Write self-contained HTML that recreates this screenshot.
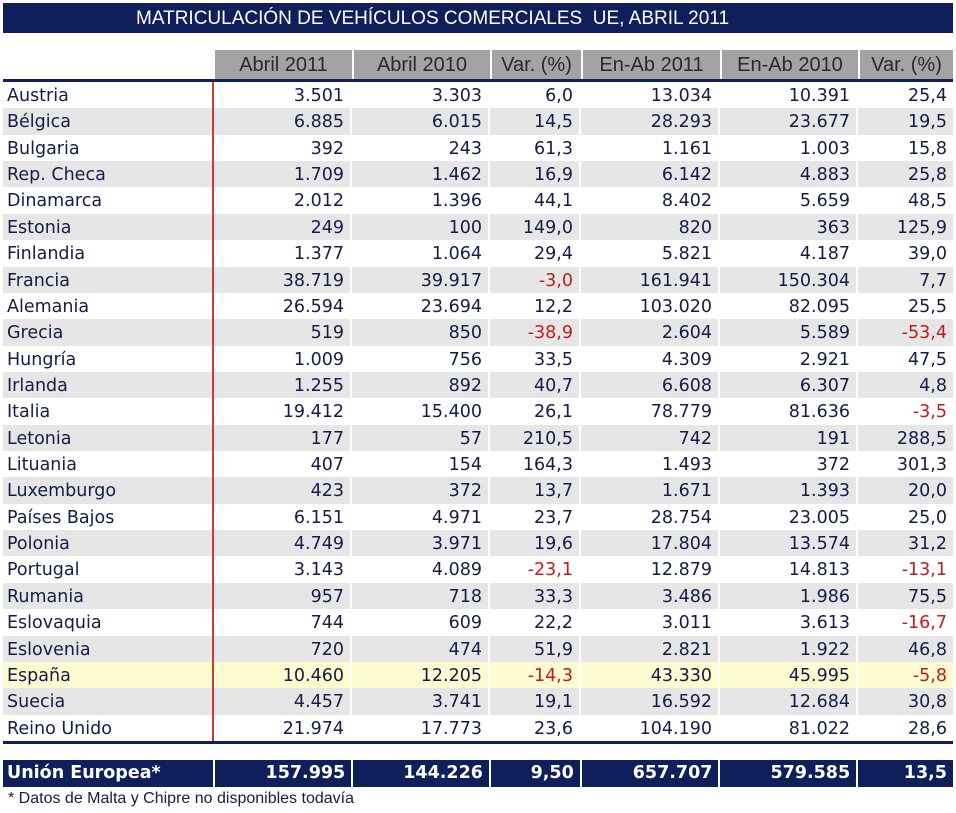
<!DOCTYPE html>
<html><head><meta charset="utf-8"><style>
*{margin:0;padding:0;box-sizing:border-box}
body{width:956px;height:813px;background:#fff;position:relative;overflow:hidden;font-family:"DejaVu Sans",Verdana,sans-serif;color:#141c4a}
.title{position:absolute;left:3px;top:3px;width:950px;height:30px;background:#0f1f5c;color:#fff;font-family:"Liberation Sans",sans-serif;font-size:19px;line-height:31px;padding-left:133px}
.hdr{position:absolute;top:50px;height:29px;background:#a3a3a3;color:#2a2a2a;font-family:"Liberation Sans",sans-serif;font-size:20px;line-height:31px;text-align:center;border-right:2px solid #fff}
.line{position:absolute;left:3px;width:950px;height:3px;background:#0f1f5c}
.rows{position:absolute;left:3px;top:82px;width:950px}
.r{height:26.36px;display:flex;font-size:17.5px;line-height:28px}
.r div{text-align:right;padding-right:6px;border-right:2px solid #fff}
.r div:first-child{text-align:left;padding-left:4px;width:210px;border-right:none}
.g{background:#e6e6e6}
.y{background:#fdfbd0}
.c1{width:139px}.c2{width:138px}.c3{width:91px}.c4{width:139px}.c5{width:138px}.c6{width:95px;border-right:none!important}
.n{color:#c41a1a}
.red{position:absolute;left:212px;top:82px;width:2px;height:660px;background:#d43a2e}
.tot{position:absolute;left:3px;top:760px;width:950px;height:27px;display:flex;color:#fff;font-weight:bold;font-size:17.5px;line-height:27px}
.tot div{background:#0f1f5c;text-align:right;padding-right:6px;border-right:2px solid #fff}
.tot div:first-child{text-align:left;padding-left:4px;width:212px}
.foot{position:absolute;left:8px;top:790px;font-family:"Liberation Sans",sans-serif;font-size:16px;color:#141c4a}
</style></head><body>
<div class="title">MATRICULACIÓN DE VEHÍCULOS COMERCIALES&nbsp; UE, ABRIL 2011</div>
<div class="hdr" style="left:215px;width:139px">Abril 2011</div>
<div class="hdr" style="left:354px;width:138px">Abril 2010</div>
<div class="hdr" style="left:492px;width:91px">Var. (%)</div>
<div class="hdr" style="left:583px;width:139px">En-Ab 2011</div>
<div class="hdr" style="left:722px;width:138px">En-Ab 2010</div>
<div class="hdr" style="left:860px;width:93px;border-right:none">Var. (%)</div>
<div class="line" style="top:79px"></div>
<div class="rows">
<div class="r"><div>Austria</div><div class="c1">3.501</div><div class="c2">3.303</div><div class="c3">6,0</div><div class="c4">13.034</div><div class="c5">10.391</div><div class="c6">25,4</div></div>
<div class="r g"><div>Bélgica</div><div class="c1">6.885</div><div class="c2">6.015</div><div class="c3">14,5</div><div class="c4">28.293</div><div class="c5">23.677</div><div class="c6">19,5</div></div>
<div class="r"><div>Bulgaria</div><div class="c1">392</div><div class="c2">243</div><div class="c3">61,3</div><div class="c4">1.161</div><div class="c5">1.003</div><div class="c6">15,8</div></div>
<div class="r g"><div>Rep. Checa</div><div class="c1">1.709</div><div class="c2">1.462</div><div class="c3">16,9</div><div class="c4">6.142</div><div class="c5">4.883</div><div class="c6">25,8</div></div>
<div class="r"><div>Dinamarca</div><div class="c1">2.012</div><div class="c2">1.396</div><div class="c3">44,1</div><div class="c4">8.402</div><div class="c5">5.659</div><div class="c6">48,5</div></div>
<div class="r g"><div>Estonia</div><div class="c1">249</div><div class="c2">100</div><div class="c3">149,0</div><div class="c4">820</div><div class="c5">363</div><div class="c6">125,9</div></div>
<div class="r"><div>Finlandia</div><div class="c1">1.377</div><div class="c2">1.064</div><div class="c3">29,4</div><div class="c4">5.821</div><div class="c5">4.187</div><div class="c6">39,0</div></div>
<div class="r g"><div>Francia</div><div class="c1">38.719</div><div class="c2">39.917</div><div class="c3 n">-3,0</div><div class="c4">161.941</div><div class="c5">150.304</div><div class="c6">7,7</div></div>
<div class="r"><div>Alemania</div><div class="c1">26.594</div><div class="c2">23.694</div><div class="c3">12,2</div><div class="c4">103.020</div><div class="c5">82.095</div><div class="c6">25,5</div></div>
<div class="r g"><div>Grecia</div><div class="c1">519</div><div class="c2">850</div><div class="c3 n">-38,9</div><div class="c4">2.604</div><div class="c5">5.589</div><div class="c6 n">-53,4</div></div>
<div class="r"><div>Hungría</div><div class="c1">1.009</div><div class="c2">756</div><div class="c3">33,5</div><div class="c4">4.309</div><div class="c5">2.921</div><div class="c6">47,5</div></div>
<div class="r g"><div>Irlanda</div><div class="c1">1.255</div><div class="c2">892</div><div class="c3">40,7</div><div class="c4">6.608</div><div class="c5">6.307</div><div class="c6">4,8</div></div>
<div class="r"><div>Italia</div><div class="c1">19.412</div><div class="c2">15.400</div><div class="c3">26,1</div><div class="c4">78.779</div><div class="c5">81.636</div><div class="c6 n">-3,5</div></div>
<div class="r g"><div>Letonia</div><div class="c1">177</div><div class="c2">57</div><div class="c3">210,5</div><div class="c4">742</div><div class="c5">191</div><div class="c6">288,5</div></div>
<div class="r"><div>Lituania</div><div class="c1">407</div><div class="c2">154</div><div class="c3">164,3</div><div class="c4">1.493</div><div class="c5">372</div><div class="c6">301,3</div></div>
<div class="r g"><div>Luxemburgo</div><div class="c1">423</div><div class="c2">372</div><div class="c3">13,7</div><div class="c4">1.671</div><div class="c5">1.393</div><div class="c6">20,0</div></div>
<div class="r"><div>Países Bajos</div><div class="c1">6.151</div><div class="c2">4.971</div><div class="c3">23,7</div><div class="c4">28.754</div><div class="c5">23.005</div><div class="c6">25,0</div></div>
<div class="r g"><div>Polonia</div><div class="c1">4.749</div><div class="c2">3.971</div><div class="c3">19,6</div><div class="c4">17.804</div><div class="c5">13.574</div><div class="c6">31,2</div></div>
<div class="r"><div>Portugal</div><div class="c1">3.143</div><div class="c2">4.089</div><div class="c3 n">-23,1</div><div class="c4">12.879</div><div class="c5">14.813</div><div class="c6 n">-13,1</div></div>
<div class="r g"><div>Rumania</div><div class="c1">957</div><div class="c2">718</div><div class="c3">33,3</div><div class="c4">3.486</div><div class="c5">1.986</div><div class="c6">75,5</div></div>
<div class="r"><div>Eslovaquia</div><div class="c1">744</div><div class="c2">609</div><div class="c3">22,2</div><div class="c4">3.011</div><div class="c5">3.613</div><div class="c6 n">-16,7</div></div>
<div class="r g"><div>Eslovenia</div><div class="c1">720</div><div class="c2">474</div><div class="c3">51,9</div><div class="c4">2.821</div><div class="c5">1.922</div><div class="c6">46,8</div></div>
<div class="r y"><div>España</div><div class="c1">10.460</div><div class="c2">12.205</div><div class="c3 n">-14,3</div><div class="c4">43.330</div><div class="c5">45.995</div><div class="c6 n">-5,8</div></div>
<div class="r g"><div>Suecia</div><div class="c1">4.457</div><div class="c2">3.741</div><div class="c3">19,1</div><div class="c4">16.592</div><div class="c5">12.684</div><div class="c6">30,8</div></div>
<div class="r"><div>Reino Unido</div><div class="c1">21.974</div><div class="c2">17.773</div><div class="c3">23,6</div><div class="c4">104.190</div><div class="c5">81.022</div><div class="c6">28,6</div></div>
</div>
<div class="red"></div>
<div class="line" style="top:741px"></div>
<div class="tot"><div>Unión Europea*</div><div class="c1">157.995</div><div class="c2">144.226</div><div class="c3">9,50</div><div class="c4">657.707</div><div class="c5">579.585</div><div class="c6">13,5</div></div>
<div class="foot">* Datos de Malta y Chipre no disponibles todavía</div>
</body></html>
